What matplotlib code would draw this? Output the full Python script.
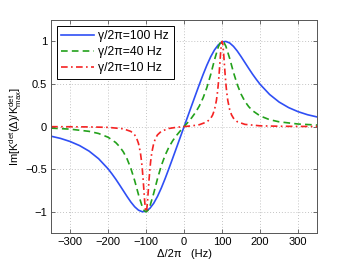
import matplotlib
matplotlib.use("Agg")
import matplotlib.pyplot as plt

plt.rcParams['font.family'] = ['Liberation Sans', 'DejaVu Sans']
plt.rcParams['mathtext.fontset'] = 'custom'
plt.rcParams['mathtext.rm'] = 'Liberation Sans'
plt.rcParams['mathtext.it'] = 'Liberation Sans'

# gamma/2pi = 100 Hz (blue)
d_100 = [-350, -325, -300, -275, -250, -225, -200, -190, -180, -170, -160, -150, -140, -130,
         -120, -110, -100, -90, -80, -70, -60, -50, -40, -30, -20, -10, 0,
         10, 20, 30, 40, 50, 60, 70, 80, 90, 100, 110, 120, 130, 140, 150, 160, 170,
         180, 190, 200, 225, 250, 275, 300, 325, 350]
k_100 = [-0.113, -0.139, -0.175, -0.223, -0.288, -0.377, -0.496, -0.554, -0.616, -0.683, -0.752,
         -0.821, -0.886, -0.941, -0.981, -0.999, -0.993, -0.959, -0.900, -0.819, -0.721, -0.611,
         -0.493, -0.371, -0.248, -0.124, 0.0,
         0.124, 0.248, 0.371, 0.493, 0.611, 0.721, 0.819, 0.900, 0.959, 0.993, 0.999, 0.981,
         0.941, 0.886, 0.821, 0.752, 0.683, 0.616, 0.554, 0.496, 0.377, 0.288, 0.223, 0.175,
         0.139, 0.113]

# gamma/2pi = 40 Hz (green)
d_40 = [-350, -300, -250, -225, -200, -180, -170, -160, -150, -140, -130, -120, -110, -105,
        -100, -95, -90, -80, -70, -60, -50, -40, -30, -20, -10, 0,
        10, 20, 30, 40, 50, 60, 70, 80, 90, 95, 100, 105, 110, 120, 130, 140, 150, 160,
        170, 180, 200, 225, 250, 300, 350]
k_40 = [-0.018, -0.030, -0.056, -0.081, -0.125, -0.187, -0.234, -0.296, -0.380, -0.492, -0.635,
        -0.799, -0.942, -0.986, -1.0, -0.982, -0.935, -0.783, -0.611, -0.459, -0.337, -0.241,
        -0.166, -0.104, -0.050, 0.0,
        0.050, 0.104, 0.166, 0.241, 0.337, 0.459, 0.611, 0.783, 0.935, 0.982, 1.0, 0.986,
        0.942, 0.799, 0.635, 0.492, 0.380, 0.296, 0.234, 0.187, 0.125, 0.081, 0.056, 0.030,
        0.018]

# gamma/2pi = 10 Hz (red)
d_10 = [-350, -300, -250, -200, -160, -140, -130, -125, -120, -115, -112, -110, -108, -106,
        -104, -102, -100, -98, -96, -94, -92, -90, -88, -85, -80, -75, -70, -60, -40, -20, 0,
        20, 40, 60, 70, 75, 80, 85, 88, 90, 92, 94, 96, 98, 100, 102, 104, 106, 108, 110,
        112, 115, 120, 125, 130, 140, 160, 200, 250, 300, 350]
k_10 = [-0.001, -0.002, -0.004, -0.009, -0.026, -0.057, -0.098, -0.136, -0.198, -0.306, -0.409,
        -0.499, -0.609, -0.735, -0.862, -0.962, -1.0, -0.961, -0.862, -0.734, -0.609, -0.498,
        -0.408, -0.306, -0.197, -0.135, -0.097, -0.055, -0.022, -0.0085, 0.0,
        0.0085, 0.022, 0.055, 0.097, 0.135, 0.197, 0.306, 0.408, 0.498, 0.609, 0.734, 0.862,
        0.961, 1.0, 0.962, 0.862, 0.735, 0.609, 0.499, 0.409, 0.306, 0.198, 0.136, 0.098,
        0.057, 0.026, 0.009, 0.004, 0.002, 0.001]

labels = ['γ/2π=100 Hz', 'γ/2π=40 Hz', 'γ/2π=10 Hz']
xticks = [-300, -200, -100, 0, 100, 200, 300]
yticks = [-1, -0.5, 0, 0.5, 1]
yticklabels = ['−1', '−0.5', '0', '0.5', '1']

fig = plt.figure(figsize=(3.5, 2.64), dpi=100)
ax = fig.add_axes([0.146, 0.117, 0.760, 0.807])

ax.plot(d_100, k_100, '-', color='#2f4ff5', lw=1.2, label=labels[0])
ax.plot(d_40, k_40, '--', color='#23a11b', lw=1.2, dashes=(4, 2.5), label=labels[1])
ax.plot(d_10, k_10, '-.', color='#f52323', lw=1.2, dashes=(4, 2, 1, 2), label=labels[2])

ax.set_xlim(-350, 350)
ax.set_ylim(-1.25, 1.25)
ax.set_xticks(xticks)
ax.set_xticklabels([str(t).replace('-', '−') for t in xticks])
ax.set_yticks(yticks)
ax.set_yticklabels(yticklabels)
ax.tick_params(direction='in', length=3, width=0.6, top=True, right=True,
               labelsize=8, pad=3, color='#555555')
for s in ax.spines.values():
    s.set_color('#555555')
    s.set_linewidth(0.7)
ax.grid(True, linestyle=(0, (1, 2.5)), color='#b0b0b0', linewidth=0.6)

ax.set_xlabel('Δ/2π   (Hz)', fontsize=8, labelpad=1)
ax.set_ylabel(r'Im[K$^{\rm det}$(Δ)/K$^{\rm det}_{\rm max}$]', fontsize=8, labelpad=1)

leg = ax.legend(loc='upper left', fontsize=8.8, frameon=True, fancybox=False,
                edgecolor='black', framealpha=1, handlelength=2.7, borderpad=0.4,
                labelspacing=0.3, handletextpad=0.3, borderaxespad=0.45)
leg.get_frame().set_linewidth(0.7)

fig.savefig('out.png', dpi=100)
